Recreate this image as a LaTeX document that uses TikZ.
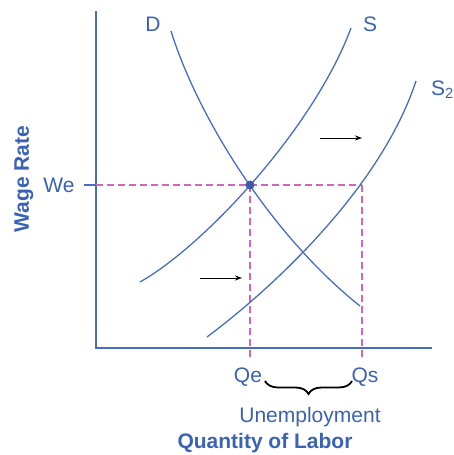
\documentclass[tikz,border=0pt]{standalone}
\usepackage{fontspec}
\setmainfont{Liberation Sans}
\usepackage{tikz}
\usetikzlibrary{arrows.meta,decorations.pathreplacing}
\definecolor{labor-blue}{RGB}{72,108,196}
\definecolor{labor-text}{RGB}{58,98,182}
\definecolor{labor-pink}{RGB}{208,102,190}
\tikzset{
  labor-axis/.style={draw=labor-blue, line width=1.3pt},
  labor-curve/.style={draw=labor-blue, line width=1.3pt},
  labor-guide/.style={draw=labor-pink, line width=1.1pt, dash pattern=on 7pt off 4pt},
  labor-label/.style={text=labor-text, font=\fontsize{21}{24}\selectfont, inner sep=0pt},
  labor-title/.style={text=labor-text, font=\fontsize{21}{24}\selectfont\bfseries, inner sep=0pt},
  labor-shift/.style={-{Stealth[length=7pt,width=5pt]}, line width=0.9pt, black}
}
\begin{document}
\begin{tikzpicture}[x=1pt, y=1pt]
  \useasboundingbox (0,0) rectangle (454,455);

  % axes
  \coordinate (top) at (96,444);
  \coordinate (origin) at (96,107);
  \coordinate (right) at (432,107);
  \draw[labor-axis] (top) -- (origin) -- (right);

  % equilibrium and the two quantities
  \coordinate (E) at (250,270);
  \coordinate (Es) at (362,270);
  \coordinate (wtick) at (84,270);
  \coordinate (waxis) at (96,270);
  \coordinate (qe) at (250,97);
  \coordinate (qs) at (362,97);

  \draw[labor-guide] (waxis) -- (Es);
  \draw[labor-guide] (E) -- (qe);
  \draw[labor-guide] (Es) -- (qs);
  \draw[labor-axis] (wtick) -- (waxis);

  % demand and supply curves
  \draw[labor-curve] (171,424) .. controls (198,337) and (272,219) .. (360,149);
  \draw[labor-curve] (140,173) .. controls (204,209) and (314,327) .. (351,427);
  \draw[labor-curve] (207,118) .. controls (270,165) and (380,265) .. (416,374);
  \fill[labor-blue!85!black] (E) circle (4.5pt);

  % shift arrows
  \coordinate (up-a) at (320,317);
  \coordinate (up-b) at (362,317);
  \coordinate (low-a) at (200,177);
  \coordinate (low-b) at (242,177);
  \draw[labor-shift] (up-a) -- (up-b);
  \draw[labor-shift] (low-a) -- (low-b);

  % labels
  \node[labor-label] (dlab) at (153,431) {D};
  \node[labor-label] (slab) at (370,431) {S};
  \node[labor-label, anchor=west] (s2lab) at (431,365) {S\textsubscript{2}};
  \node[labor-label] (welab) at (59,270) {We};
  \node[labor-label] (qelab) at (248,78) {Qe};
  \node[labor-label] (qslab) at (365,78) {Qs};
  \node[labor-title, rotate=90] (ylab) at (24,276) {Wage Rate};
  \node[labor-title] (xlab) at (265,12) {Quantity of Labor};

  % unemployment gap
  \coordinate (gap-a) at (265,74);
  \coordinate (gap-b) at (352,74);
  \draw[decorate, decoration={brace, mirror, amplitude=13pt}, line width=1.8pt]
    (gap-a) -- (gap-b);
  \node[labor-label] (unemp) at (310,38) {Unemployment};
\end{tikzpicture}
\end{document}
